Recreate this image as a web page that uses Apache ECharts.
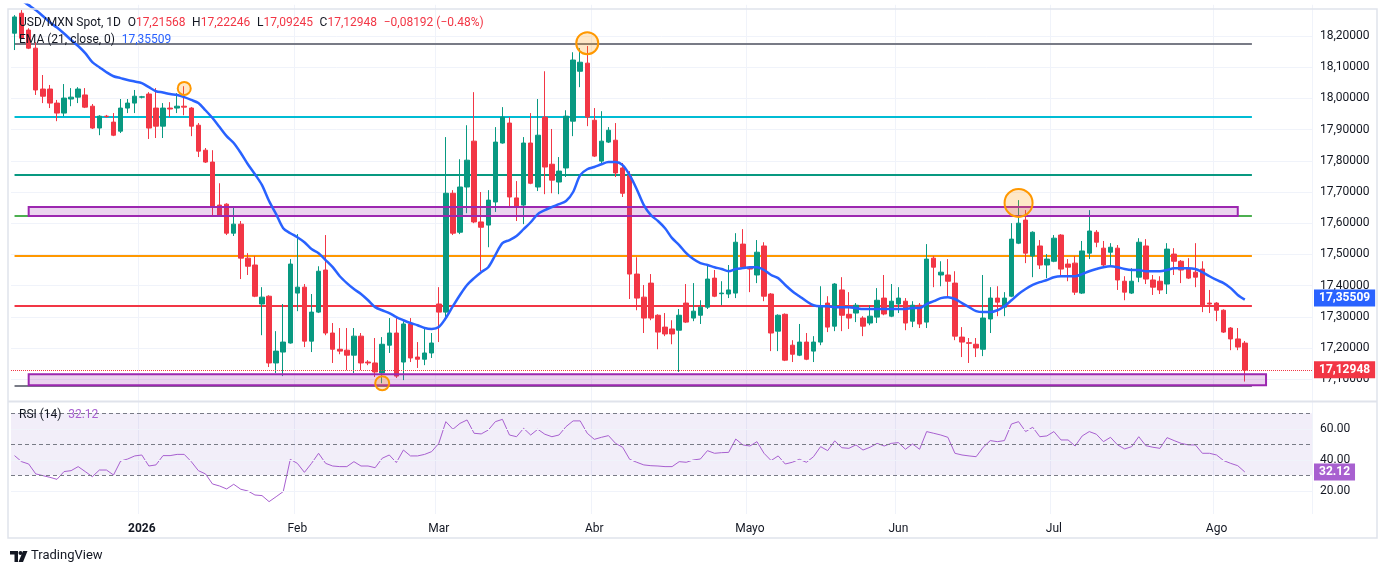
<!DOCTYPE html>
<html lang="es">
<head>
    <meta charset="UTF-8">
    <title>USD/MXN Spot, 1D</title>
    <script src="https://cdn.jsdelivr.net/npm/echarts@6.0.0/dist/echarts.min.js"></script>
    <style>
        html, body { margin: 0; padding: 0; background: #fff; }
        #chart { width: 1388px; height: 575px; }
    </style>
</head>
<body>
    <div id="chart"></div>
    <script>
        // velas diarias USD/MXN (apertura, cierre, minimo, maximo)
        const openP = [
            18.209, 18.273, 18.219, 18.161, 18.030, 18.030, 17.985, 17.953, 17.998, 18.004,
            18.011, 17.975, 17.905, 17.943, 17.924, 17.895, 17.969, 17.985, 18.004, 18.014,
            17.969, 17.911, 17.969, 17.969, 17.975, 17.969, 17.914, 17.834, 17.796, 17.658,
            17.661, 17.568, 17.597, 17.488, 17.466, 17.341, 17.366, 17.152, 17.187, 17.216,
            17.376, 17.395, 17.222, 17.315, 17.450, 17.248, 17.196, 17.193, 17.177, 17.238,
            17.155, 17.152, 17.120, 17.209, 17.248, 17.155, 17.277, 17.171, 17.164, 17.184,
            17.341, 17.315, 17.696, 17.571, 17.716, 17.863, 17.604, 17.594, 17.668, 17.857,
            17.921, 17.681, 17.658, 17.857, 17.716, 17.940, 17.789, 17.732, 17.777, 17.927,
            18.087, 18.113, 17.930, 17.799, 17.860, 17.866, 17.777, 17.754, 17.437, 17.363,
            17.408, 17.305, 17.267, 17.261, 17.257, 17.344, 17.296, 17.305, 17.331, 17.424,
            17.374, 17.373, 17.376, 17.533, 17.459, 17.434, 17.527, 17.373, 17.254, 17.308,
            17.209, 17.177, 17.219, 17.190, 17.219, 17.344, 17.270, 17.386, 17.308, 17.312,
            17.296, 17.280, 17.299, 17.360, 17.302, 17.341, 17.350, 17.286, 17.337, 17.283,
            17.488, 17.434, 17.434, 17.408, 17.235, 17.217, 17.212, 17.196, 17.293, 17.360,
            17.331, 17.366, 17.536, 17.610, 17.495, 17.527, 17.466, 17.478, 17.562, 17.469,
            17.472, 17.376, 17.504, 17.571, 17.520, 17.507, 17.520, 17.414, 17.376, 17.427,
            17.527, 17.418, 17.414, 17.405, 17.501, 17.478, 17.453, 17.443, 17.453, 17.344,
            17.344, 17.321, 17.264, 17.229, 17.21568
        ];
        const closeP = [
            18.261, 18.193, 18.161, 18.027, 18.007, 17.985, 17.953, 18.001, 18.004, 18.030,
            17.972, 17.905, 17.943, 17.942, 17.882, 17.969, 17.985, 18.007, 18.005, 17.905,
            17.911, 17.969, 17.966, 17.975, 17.972, 17.911, 17.831, 17.796, 17.652, 17.626,
            17.568, 17.597, 17.488, 17.462, 17.366, 17.363, 17.152, 17.190, 17.219, 17.469,
            17.395, 17.222, 17.315, 17.446, 17.248, 17.196, 17.190, 17.177, 17.238, 17.152,
            17.152, 17.123, 17.212, 17.248, 17.110, 17.277, 17.168, 17.164, 17.184, 17.216,
            17.315, 17.696, 17.568, 17.716, 17.802, 17.604, 17.587, 17.674, 17.860, 17.940,
            17.684, 17.652, 17.857, 17.728, 17.882, 17.780, 17.738, 17.767, 17.943, 18.123,
            18.116, 17.940, 17.815, 17.863, 17.898, 17.761, 17.696, 17.437, 17.360, 17.296,
            17.296, 17.251, 17.245, 17.245, 17.305, 17.283, 17.318, 17.331, 17.421, 17.366,
            17.376, 17.386, 17.539, 17.459, 17.453, 17.507, 17.366, 17.248, 17.305, 17.161,
            17.180, 17.219, 17.164, 17.219, 17.334, 17.267, 17.405, 17.305, 17.296, 17.337,
            17.270, 17.302, 17.353, 17.309, 17.350, 17.360, 17.280, 17.337, 17.277, 17.485,
            17.459, 17.443, 17.414, 17.238, 17.219, 17.215, 17.200, 17.296, 17.360, 17.347,
            17.360, 17.549, 17.600, 17.504, 17.571, 17.466, 17.485, 17.552, 17.453, 17.459,
            17.379, 17.511, 17.575, 17.539, 17.466, 17.523, 17.418, 17.379, 17.414, 17.539,
            17.421, 17.395, 17.386, 17.517, 17.478, 17.450, 17.424, 17.427, 17.334, 17.341,
            17.321, 17.251, 17.229, 17.203, 17.12948
        ];
        const lowP = [
            18.155, 18.190, 18.158, 18.011, 17.985, 17.969, 17.927, 17.943, 17.975, 17.985,
            17.969, 17.902, 17.882, 17.938, 17.879, 17.889, 17.953, 17.953, 18.000, 17.870,
            17.873, 17.873, 17.940, 17.953, 17.946, 17.879, 17.812, 17.793, 17.620, 17.623,
            17.562, 17.559, 17.421, 17.434, 17.363, 17.241, 17.139, 17.120, 17.110, 17.214,
            17.318, 17.203, 17.187, 17.312, 17.241, 17.152, 17.180, 17.129, 17.120, 17.129,
            17.145, 17.107, 17.087, 17.184, 17.104, 17.097, 17.155, 17.136, 17.145, 17.168,
            17.219, 17.289, 17.562, 17.565, 17.632, 17.600, 17.446, 17.523, 17.636, 17.855,
            17.652, 17.607, 17.597, 17.725, 17.703, 17.693, 17.696, 17.693, 17.748, 17.879,
            18.036, 17.911, 17.812, 17.793, 17.857, 17.748, 17.684, 17.357, 17.321, 17.248,
            17.289, 17.196, 17.238, 17.212, 17.123, 17.280, 17.286, 17.277, 17.325, 17.363,
            17.337, 17.360, 17.360, 17.456, 17.379, 17.408, 17.350, 17.190, 17.190, 17.158,
            17.155, 17.174, 17.161, 17.155, 17.209, 17.251, 17.254, 17.254, 17.261, 17.283,
            17.238, 17.273, 17.280, 17.305, 17.299, 17.312, 17.257, 17.267, 17.264, 17.264,
            17.395, 17.398, 17.363, 17.225, 17.171, 17.152, 17.171, 17.174, 17.248, 17.302,
            17.302, 17.363, 17.533, 17.472, 17.427, 17.453, 17.424, 17.475, 17.430, 17.414,
            17.370, 17.373, 17.485, 17.523, 17.459, 17.466, 17.386, 17.353, 17.373, 17.411,
            17.405, 17.370, 17.373, 17.373, 17.434, 17.408, 17.421, 17.395, 17.315, 17.312,
            17.286, 17.248, 17.193, 17.193, 17.09245
        ];
        const highP = [
            18.267, 18.283, 18.225, 18.180, 18.075, 18.043, 17.995, 18.046, 18.033, 18.036,
            18.033, 17.982, 17.946, 17.947, 17.953, 17.998, 17.998, 18.027, 18.008, 18.020,
            18.033, 17.985, 17.988, 18.017, 18.039, 17.972, 17.921, 17.841, 17.834, 17.728,
            17.664, 17.652, 17.607, 17.504, 17.495, 17.395, 17.369, 17.254, 17.341, 17.485,
            17.565, 17.405, 17.373, 17.462, 17.562, 17.280, 17.264, 17.264, 17.264, 17.248,
            17.161, 17.232, 17.235, 17.296, 17.296, 17.286, 17.296, 17.219, 17.267, 17.248,
            17.395, 17.876, 17.706, 17.805, 17.914, 18.020, 17.700, 17.706, 17.908, 17.972,
            17.940, 17.735, 17.876, 17.953, 17.998, 18.087, 17.902, 17.812, 17.962, 18.148,
            18.161, 18.168, 17.969, 17.959, 17.908, 17.921, 17.793, 17.767, 17.491, 17.402,
            17.437, 17.308, 17.312, 17.289, 17.325, 17.405, 17.408, 17.353, 17.466, 17.450,
            17.414, 17.466, 17.568, 17.581, 17.462, 17.546, 17.539, 17.376, 17.308, 17.311,
            17.225, 17.277, 17.248, 17.238, 17.398, 17.366, 17.408, 17.427, 17.379, 17.344,
            17.302, 17.337, 17.392, 17.434, 17.405, 17.395, 17.360, 17.350, 17.344, 17.533,
            17.495, 17.478, 17.485, 17.446, 17.267, 17.232, 17.232, 17.434, 17.395, 17.398,
            17.379, 17.600, 17.674, 17.642, 17.574, 17.546, 17.501, 17.562, 17.565, 17.485,
            17.495, 17.543, 17.642, 17.578, 17.543, 17.536, 17.530, 17.430, 17.456, 17.552,
            17.549, 17.434, 17.430, 17.536, 17.520, 17.482, 17.488, 17.536, 17.478, 17.386,
            17.347, 17.324, 17.267, 17.264, 17.22246
        ];
        // EMA (21, close)
        const emaP = [
            18.341, 18.315, 18.299, 18.283, 18.264, 18.244, 18.227, 18.208, 18.187, 18.168,
            18.145, 18.116, 18.100, 18.084, 18.071, 18.065, 18.059, 18.054, 18.049, 18.036,
            18.023, 18.019, 18.014, 18.011, 18.004, 17.995, 17.985, 17.962, 17.937, 17.908,
            17.879, 17.857, 17.825, 17.789, 17.757, 17.722, 17.671, 17.629, 17.584, 17.568,
            17.555, 17.539, 17.517, 17.504, 17.482, 17.459, 17.430, 17.408, 17.389, 17.373,
            17.353, 17.331, 17.321, 17.312, 17.299, 17.289, 17.280, 17.273, 17.264, 17.261,
            17.267, 17.296, 17.334, 17.370, 17.402, 17.424, 17.443, 17.459, 17.498, 17.536,
            17.546, 17.559, 17.581, 17.603, 17.629, 17.642, 17.652, 17.661, 17.671, 17.700,
            17.754, 17.773, 17.780, 17.789, 17.796, 17.796, 17.786, 17.754, 17.709, 17.658,
            17.626, 17.607, 17.584, 17.552, 17.530, 17.504, 17.485, 17.472, 17.466, 17.459,
            17.453, 17.446, 17.453, 17.456, 17.459, 17.459, 17.450, 17.434, 17.424, 17.402,
            17.382, 17.366, 17.350, 17.337, 17.334, 17.334, 17.331, 17.331, 17.331, 17.328,
            17.325, 17.325, 17.325, 17.325, 17.325, 17.325, 17.325, 17.328, 17.328, 17.341,
            17.350, 17.360, 17.363, 17.357, 17.344, 17.331, 17.318, 17.315, 17.315, 17.321,
            17.334, 17.353, 17.373, 17.389, 17.402, 17.411, 17.418, 17.427, 17.430, 17.430,
            17.430, 17.437, 17.446, 17.453, 17.459, 17.462, 17.459, 17.453, 17.450, 17.450,
            17.446, 17.446, 17.446, 17.450, 17.456, 17.456, 17.456, 17.453, 17.443, 17.430,
            17.418, 17.408, 17.392, 17.370, 17.35509
        ];
        // RSI (14)
        const rsiV = [
            42.7, 38.8, 37.3, 30.9, 29.8, 28.7, 27.4, 32.4, 33.0, 35.6,
            32.4, 29.1, 33.4, 33.4, 30.2, 39.2, 40.5, 42.5, 43.1, 36.0,
            36.7, 42.7, 42.7, 43.5, 43.5, 38.8, 33.0, 30.9, 24.4, 23.1,
            21.2, 24.2, 21.0, 19.9, 17.3, 16.9, 13.0, 16.2, 19.5, 40.3,
            37.7, 31.9, 37.7, 44.2, 37.7, 36.0, 35.6, 35.6, 38.8, 36.0,
            36.0, 34.9, 41.0, 43.1, 38.2, 46.3, 42.5, 42.5, 43.5, 45.3,
            50.6, 64.6, 59.7, 63.5, 65.7, 57.1, 56.7, 59.2, 64.6, 66.1,
            56.0, 54.9, 60.3, 56.0, 59.7, 56.5, 54.9, 56.0, 61.4, 65.1,
            65.1, 57.1, 53.2, 54.5, 55.6, 50.6, 48.1, 40.3, 38.4, 36.7,
            36.2, 36.0, 35.6, 35.6, 38.8, 38.4, 39.9, 40.5, 45.9, 44.2,
            44.6, 44.8, 53.4, 49.6, 48.9, 51.7, 44.2, 39.5, 42.5, 37.3,
            38.4, 40.3, 38.4, 42.0, 48.5, 45.9, 52.2, 47.8, 47.4, 49.6,
            46.3, 48.1, 50.6, 48.9, 50.6, 51.1, 46.8, 50.2, 46.8, 58.2,
            57.1, 56.0, 54.5, 44.2, 43.1, 42.5, 42.0, 48.1, 52.4, 51.7,
            52.4, 63.1, 64.6, 58.2, 61.0, 54.9, 55.4, 58.2, 52.8, 52.8,
            48.9, 55.4, 58.2, 56.5, 51.7, 54.5, 49.6, 47.0, 48.5, 54.9,
            49.1, 48.1, 47.4, 54.3, 52.4, 50.6, 49.6, 49.6, 44.2, 44.2,
            43.1, 39.5, 37.7, 36.2, 32.12
        ];

        // niveles horizontales dibujados y zonas
        const levelValues = [18.174, 17.940, 17.755, 17.623, 17.495, 17.334, 17.078];
        const upperZone = [17.623, 17.652];
        const lowerZone = [17.081, 17.116];
        const circleIdx = [24, 52, 81, 142];
        const circlePrice = [18.032, 17.087, 18.177, 17.665];
        const priceTicks = [17.1, 17.2, 17.3, 17.4, 17.5, 17.6, 17.7, 17.8, 17.9, 18.0, 18.1, 18.2];
        const rsiGridTicks = [20, 40, 60];
        const rsiBandTicks = [70, 50, 30];
        const monthNames = {
            '2026-01': '2026', '2026-02': 'Feb', '2026-03': 'Mar', '2026-04': 'Abr',
            '2026-05': 'Mayo', '2026-06': 'Jun', '2026-07': 'Jul', '2026-08': 'Ago'
        };
        const lastChange = -0.08192;
        const lastChangePct = -0.48;
        const lastRsi = rsiV[rsiV.length - 1];
        const lastEma = emaP[emaP.length - 1];
        const lastI = closeP.length - 1;

        // dias habiles desde el 8 dic 2025 (con espacio vacio a la derecha)
        const nCat = 184;
        const dates = [];
        const d = new Date(Date.UTC(2025, 11, 8));
        while (dates.length < nCat) {
            const wd = d.getUTCDay();
            if (wd !== 0 && wd !== 6) dates.push(d.toISOString().slice(0, 10));
            d.setUTCDate(d.getUTCDate() + 1);
        }
        const isMonthStart = i => i > 0 && dates[i].slice(0, 7) !== dates[i - 1].slice(0, 7) && !!monthNames[dates[i].slice(0, 7)];

        const FONT = 'Roboto, "Liberation Sans", sans-serif';
        const GRIDC = '#f0f3fa';
        const UP = '#089981';
        const DOWN = '#f23645';
        const RSIC = '#a860d0';
        const levelColors = ['#787b86', '#00bcd4', '#089981', '#4caf50', '#ff9800', '#f23645', '#787b86'];
        const circleSizes = [13, 14, 22, 28];

        const fmt = v => v.toFixed(5).replace('.', ',');
        const candleData = openP.map((o, i) => [o, closeP[i], lowP[i], highP[i]]);

        const tag = (text, bg) => ({
            show: true, position: 'end', distance: 2, formatter: text,
            color: '#fff', backgroundColor: bg, padding: [3, 5, 2, 5],
            fontSize: 12, fontWeight: 'bold', fontFamily: FONT
        });
        const hidden = {color: 'rgba(0,0,0,0)', width: 1, type: 'solid'};

        const chart = echarts.init(document.getElementById('chart'));
        const option = {
            animation: false,
            backgroundColor: '#ffffff',
            grid: [
                {left: 11, right: 76, top: 4.8, height: 405.6},
                {left: 11, right: 76, top: 405.55, height: 108.5}
            ],
            xAxis: [
                {
                    type: 'category', gridIndex: 0, data: dates,
                    axisLine: {show: false}, axisTick: {show: false}, axisLabel: {show: false},
                    splitLine: {show: true, interval: i => isMonthStart(i), lineStyle: {color: GRIDC}}
                },
                {
                    type: 'category', gridIndex: 1, data: dates,
                    axisLine: {show: false}, axisTick: {show: false},
                    axisLabel: {
                        show: true, interval: i => isMonthStart(i), margin: 9,
                        color: '#131722', fontSize: 12, fontFamily: FONT,
                        formatter: v => {
                            const m = monthNames[v.slice(0, 7)];
                            return m === '2026' ? '{y|2026}' : m;
                        },
                        rich: {y: {fontWeight: 'bold', color: '#131722', fontSize: 12, fontFamily: FONT}}
                    },
                    splitLine: {show: true, interval: i => isMonthStart(i), lineStyle: {color: GRIDC}}
                }
            ],
            yAxis: [
                {
                    type: 'value', gridIndex: 0, position: 'right', min: 17.0, max: 18.3, interval: 0.1,
                    axisLine: {show: false}, axisTick: {show: false}, splitLine: {show: false},
                    axisLabel: {
                        margin: 8, color: '#131722', fontSize: 12, fontFamily: FONT,
                        formatter: v => (v > 17.05 && v < 18.25) ? fmt(v) : ''
                    }
                },
                {
                    type: 'value', gridIndex: 1, position: 'right', min: 5, max: 75, interval: 5,
                    axisLine: {show: false}, axisTick: {show: false}, splitLine: {show: false},
                    axisLabel: {
                        margin: 8, color: '#131722', fontSize: 12, fontFamily: FONT,
                        formatter: v => {
                            const r = Math.round(v);
                            return (Math.abs(v - r) < 1e-6 && rsiGridTicks.indexOf(r) >= 0) ? r.toFixed(2) : '';
                        }
                    }
                }
            ],
            series: [
                { // cuadricula de precio y niveles horizontales (debajo de velas y zonas)
                    type: 'line', xAxisIndex: 0, yAxisIndex: 0, data: [], z: 1, silent: true,
                    markLine: {
                        silent: true, symbol: 'none', label: {show: false}, z: 1,
                        data: priceTicks.map(v => ({yAxis: v, lineStyle: {color: GRIDC, width: 1, type: 'solid'}}))
                            .concat(levelValues.map((v, k) => [
                                {coord: [0, v], lineStyle: {color: levelColors[k], width: 2, type: 'solid'}},
                                {coord: [175, v]}
                            ]))
                    }
                },
                {
                    type: 'candlestick', name: 'USD/MXN', xAxisIndex: 0, yAxisIndex: 0,
                    data: candleData, barWidth: 5, z: 3,
                    itemStyle: {color: UP, color0: DOWN, borderColor: UP, borderColor0: DOWN, borderWidth: 1},
                    markArea: {
                        silent: true, z: 4,
                        itemStyle: {color: 'rgba(156,39,176,0.2)', borderColor: '#9c27b0', borderWidth: 2},
                        data: [
                            [{coord: [2, upperZone[1]]}, {coord: [173, upperZone[0]]}],
                            [{coord: [2, lowerZone[1]]}, {coord: [177, lowerZone[0]]}]
                        ]
                    },
                    markLine: {
                        silent: true, symbol: 'none',
                        data: [{
                            yAxis: closeP[lastI],
                            lineStyle: {color: DOWN, width: 1, type: 'dotted'},
                            label: tag(fmt(closeP[lastI]), DOWN)
                        }]
                    },
                    markPoint: {
                        silent: true, symbol: 'circle', label: {show: false},
                        itemStyle: {color: 'rgba(255,152,0,0.22)', borderColor: '#ff9800', borderWidth: 2},
                        data: circleIdx.map((ci, k) => ({coord: [ci, circlePrice[k]], symbolSize: circleSizes[k]}))
                    }
                },
                {
                    type: 'line', name: 'EMA', xAxisIndex: 0, yAxisIndex: 0, data: emaP, z: 4,
                    smooth: 0.3, symbol: 'none', lineStyle: {color: '#2962ff', width: 2.5},
                    markLine: {
                        silent: true, symbol: 'none',
                        data: [{yAxis: lastEma, lineStyle: hidden, label: tag(fmt(lastEma), '#2962ff')}]
                    }
                },
                {
                    type: 'line', name: 'RSI', xAxisIndex: 1, yAxisIndex: 1, data: rsiV, z: 3,
                    symbol: 'none', lineStyle: {color: RSIC, width: 1},
                    markArea: {
                        silent: true, itemStyle: {color: 'rgba(126,87,194,0.1)'},
                        data: [[{yAxis: rsiBandTicks[2]}, {yAxis: rsiBandTicks[0]}]]
                    },
                    markLine: {
                        silent: true, symbol: 'none', label: {show: false},
                        data: rsiGridTicks.map(v => ({yAxis: v, lineStyle: {color: GRIDC, width: 1, type: 'solid'}}))
                            .concat(rsiBandTicks.map(v => ({yAxis: v, lineStyle: {color: '#787b86', width: 1, type: [4, 3]}})))
                            .concat([{yAxis: lastRsi, lineStyle: hidden, label: tag(lastRsi.toFixed(2), RSIC)}])
                    }
                }
            ],
            graphic: [
                {
                    type: 'rect', silent: true, z: 50,
                    shape: {x: 8, y: 9, width: 1369, height: 529},
                    style: {fill: 'none', stroke: '#e0e3eb', lineWidth: 1.5}
                },
                {
                    type: 'line', silent: true, z: 50,
                    shape: {x1: 8, y1: 401.5, x2: 1377, y2: 401.5},
                    style: {stroke: '#e0e3eb', lineWidth: 2}
                },
                {
                    type: 'text', left: 19, top: 17, z: 60,
                    style: {
                        text: '{n|USD/MXN Spot, 1D}  {n|O}{v|' + fmt(openP[lastI]) + '}  {n|H}{v|' + fmt(highP[lastI]) +
                            '}  {n|L}{v|' + fmt(lowP[lastI]) + '}  {n|C}{v|' + fmt(closeP[lastI]) + '}  {v|' +
                            '\u2212' + fmt(Math.abs(lastChange)) + ' (\u2212' + Math.abs(lastChangePct).toFixed(2) + '%)}',
                        rich: {
                            n: {fill: '#131722', fontSize: 12, fontFamily: FONT},
                            v: {fill: DOWN, fontSize: 12, fontFamily: FONT}
                        }
                    }
                },
                {
                    type: 'text', left: 19, top: 34, z: 60,
                    style: {
                        text: '{n|EMA (21, close, 0)}  {v|' + fmt(lastEma) + '}',
                        rich: {
                            n: {fill: '#131722', fontSize: 12, fontFamily: FONT},
                            v: {fill: '#2962ff', fontSize: 12, fontFamily: FONT}
                        }
                    }
                },
                {
                    type: 'text', left: 19, top: 409, z: 60,
                    style: {
                        text: '{n|RSI (14)}  {v|' + lastRsi.toFixed(2) + '}',
                        rich: {
                            n: {fill: '#131722', fontSize: 12, fontFamily: FONT},
                            v: {fill: RSIC, fontSize: 12, fontFamily: FONT}
                        }
                    }
                },
                { // logo TradingView
                    type: 'group', left: 10, top: 551, z: 60, silent: true,
                    children: [
                        {type: 'polygon', shape: {points: [[0, 0], [8, 0], [8, 11], [4.5, 11], [4.5, 3.5], [0, 3.5]]}, style: {fill: '#131722'}},
                        {type: 'circle', shape: {cx: 10.5, cy: 2, r: 2}, style: {fill: '#131722'}},
                        {type: 'polygon', shape: {points: [[13, 0], [17.5, 0], [13, 11], [8.5, 11]]}, style: {fill: '#131722'}}
                    ]
                },
                {
                    type: 'text', left: 31, top: 549, z: 60,
                    style: {text: 'TradingView', fill: '#131722', fontSize: 13, fontFamily: FONT}
                }
            ]
        };
        chart.setOption(option);
    </script>
</body>
</html>
